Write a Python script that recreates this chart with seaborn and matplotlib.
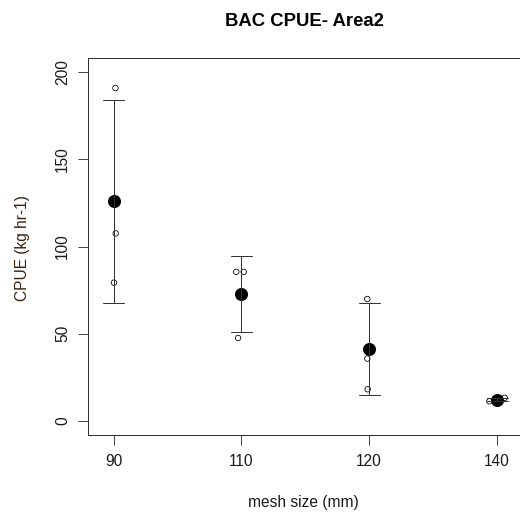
import matplotlib
matplotlib.use("Agg")
import matplotlib.pyplot as plt
import seaborn as sns
import pandas as pd
import numpy as np

# data
mesh_sizes = ["90", "110", "120", "140"]
cpue_90 = [190.8, 107.5, 79.3]
cpue_110 = [85.5, 85.5, 47.6]
cpue_120 = [69.9, 35.8, 18.2]
cpue_140 = [11.3, 12.3, 13.3]
# small horizontal jitter of the raw points (category units)
jitter_90 = [0.015, 0.017, 0.003]
jitter_110 = [-0.04, 0.018, -0.026]
jitter_120 = [-0.015, -0.015, -0.012]
jitter_140 = [-0.06, 0.0, 0.06]

title = "BAC CPUE- Area2"
xlabel = "mesh size (mm)"
ylabel = "CPUE (kg hr-1)"
yticks = [0, 50, 100, 150, 200]

sns.set_theme(style="white")
plt.rcParams["font.family"] = ["Liberation Sans", "DejaVu Sans"]

groups = [cpue_90, cpue_110, cpue_120, cpue_140]
jitters = [jitter_90, jitter_110, jitter_120, jitter_140]
rows = []
for i, (m, vals, jit) in enumerate(zip(mesh_sizes, groups, jitters)):
    for v, j in zip(vals, jit):
        rows.append({"mesh": m, "cpue": v, "pos": i + j})
df = pd.DataFrame(rows)

fig = plt.figure(figsize=(520 / 72, 521 / 72), dpi=72)
ax = fig.add_axes([88 / 520, 1 - 435 / 521, (522.6 - 88) / 520, (435 - 58) / 521])

sns.pointplot(data=df, x="mesh", y="cpue", order=mesh_sizes, errorbar="sd",
              linestyle="none", color="black", markers="o", capsize=0.164,
              err_kws={"linewidth": 1.0, "color": "#333333"},
              markersize=11, ax=ax, zorder=3)
sns.scatterplot(data=df, x="pos", y="cpue", marker="o", s=30,
                facecolor="none", edgecolor="black", linewidth=0.8,
                ax=ax, zorder=2, legend=False)

ax.set_xlim(-0.2, 3.2)
ax.set_ylim(-8, 208)
ax.set_xticks(range(len(mesh_sizes)))
ax.set_xticklabels(mesh_sizes)
ax.set_yticks(yticks)
ax.set_yticklabels([str(t) for t in yticks], rotation=90, va="center")
ax.tick_params(axis="both", which="both", length=10, width=0.9, color="#333333",
               labelsize=15.5, labelcolor="#1a1a1a", direction="out",
               bottom=True, left=True, pad=8)
ax.tick_params(axis="x", pad=9)
for s in ax.spines.values():
    s.set_color("#333333")
    s.set_linewidth(1.0)
    s.set_visible(True)
ax.spines["right"].set_visible(False)

ax.set_xlabel("")
ax.set_ylabel("")
fig.text(303.5 / 520, 1 - 503 / 521, xlabel, ha="center", va="center",
         fontsize=15.5, color="#1a1a1a")
fig.text(23 / 520, 1 - 248 / 521, ylabel, ha="center", va="center",
         rotation=90, fontsize=15.5, color="#3a2010")
fig.text(304 / 520, 1 - 21 / 521, title, ha="center", va="center",
         fontsize=18.5, fontweight="bold", color="black")

fig.savefig("out.png", dpi=72)
